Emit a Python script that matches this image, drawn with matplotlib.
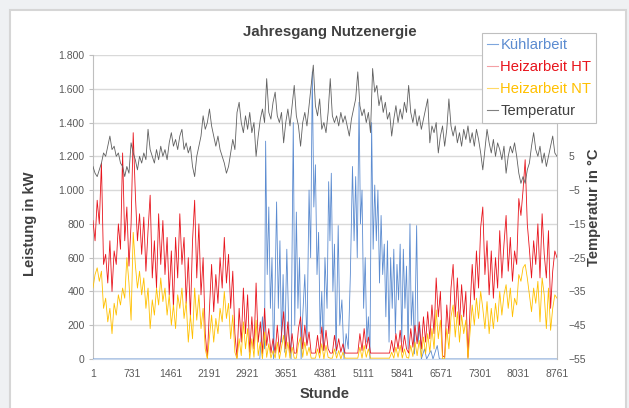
import numpy as np
import matplotlib
matplotlib.use("Agg")
import matplotlib.pyplot as plt
from matplotlib.patches import Rectangle
from matplotlib.lines import Line2D
from matplotlib.ticker import FuncFormatter

plt.rcParams['font.family'] = ['Liberation Sans', 'DejaVu Sans']

# sampling of the year, every 40 hours
hours = np.arange(0, 8761, 40)

# outside temperature in deg C (secondary axis)
temperatur = [2, 0, -1, 1, 3, 6, 5, 8, 11, 7,
              8, 5, 6, 3, 2, -1, 2, 0, 9, 6,
              4, 1, 5, 3, 6, 4, 13, 7, 5, 3,
              7, 4, 8, 5, 7, 4, 9, 12, 8, 10,
              7, 11, 13, 7, 9, 6, 8, 2, -1, 5,
              8, 11, 17, 13, 15, 19, 14, 11, 8, 11,
              7, 5, 3, 0, 2, 6, 10, 7, 18, 21,
              15, 12, 17, 13, 18, 12, 15, 5, 11, 16,
              19, 15, 28, 18, 16, 21, 24, 17, 15, 18,
              9, 15, 19, 14, 20, 26, 17, 14, 8, 15,
              18, 14, 20, 26, 32, 20, 17, 22, 13, 15,
              12, 18, 28, 17, 15, 17, 14, 18, 15, 17,
              14, 11, 16, 19, 22, 30, 20, 17, 19, 15,
              18, 12, 31, 24, 26, 20, 23, 18, 21, 16,
              18, 11, 16, 20, 15, 19, 16, 21, 18, 26,
              18, 15, 19, 14, 17, 13, 16, 19, 22, 9,
              14, 12, 15, 6, 11, 14, 8, 13, 22, 14,
              11, 14, 9, 12, 8, 13, 10, 14, 9, 12,
              8, 13, 10, 6, 1, 7, 13, 9, 6, 10,
              5, 9, 7, 4, 8, 0, 5, 8, 6, 9,
              5, 0, -3, -1, -3, 1, 3, 8, 12, 7,
              5, 8, 3, 6, 2, 5, 8, 11, 6, 5]

# Heizarbeit HT in kW
heiz_ht = [820, 700, 940, 800, 1160, 560, 620, 450, 700, 400,
           640, 560, 800, 650, 1220, 700, 900, 550, 800, 1340,
           980, 700, 860, 620, 840, 520, 760, 970, 480, 700,
           420, 860, 560, 820, 500, 720, 380, 640, 300, 720,
           480, 860, 560, 720, 330, 600, 250, 700, 940, 480,
           800, 380, 600, 150, 10, 300, 560, 280, 500, 330,
           600, 420, 720, 450, 620, 300, 520, 150, 10, 300,
           100, 420, 150, 380, 40, 250, 60, 450, 100, 220,
           30, 300, 80, 180, 35, 120, 35, 200, 40, 150,
           280, 60, 220, 35, 150, 35, 35, 180, 250, 60,
           200, 80, 160, 35, 35, 35, 140, 35, 190, 50,
           170, 60, 35, 35, 140, 50, 120, 40, 90, 35,
           35, 35, 35, 35, 35, 35, 150, 50, 180, 60,
           130, 35, 35, 35, 35, 35, 35, 35, 35, 35,
           35, 110, 40, 150, 60, 170, 40, 140, 60, 35,
           180, 70, 200, 90, 220, 60, 250, 100, 280, 120,
           320, 150, 480, 250, 400, 20, 10, 320, 150, 420,
           560, 250, 480, 200, 440, 250, 400, 10, 300, 560,
           350, 640, 420, 780, 900, 500, 700, 380, 640, 360,
           600, 420, 760, 480, 680, 850, 520, 720, 460, 640,
           560, 950, 850, 1000, 1180, 800, 650, 480, 700, 560,
           800, 480, 860, 620, 480, 760, 300, 520, 640, 600]

# Heizarbeit NT in kW
heiz_nt = [420, 500, 540, 460, 520, 300, 360, 220, 300, 150,
           330, 260, 380, 320, 420, 360, 600, 450, 230, 750,
           560, 420, 520, 380, 480, 300, 420, 180, 350, 260,
           420, 320, 480, 340, 420, 260, 380, 200, 320, 180,
           380, 300, 420, 240, 340, 100, 260, 120, 420, 230,
           380, 180, 300, 60, 0, 130, 260, 100, 240, 150,
           300, 220, 400, 240, 330, 120, 260, 40, 0, 120,
           20, 220, 60, 180, 0, 120, 10, 230, 20, 100,
           0, 160, 10, 90, 5, 50, 5, 100, 0, 70,
           140, 10, 100, 5, 70, 5, 5, 90, 130, 10,
           100, 20, 70, 5, 5, 5, 60, 5, 90, 0,
           80, 10, 5, 5, 60, 5, 50, 0, 40, 5,
           5, 5, 5, 5, 5, 5, 70, 5, 80, 10,
           60, 5, 5, 5, 5, 5, 5, 5, 5, 5,
           5, 40, 5, 70, 10, 80, 5, 60, 10, 5,
           80, 15, 100, 20, 110, 10, 130, 30, 150, 40,
           180, 60, 290, 120, 230, 0, 0, 180, 60, 250,
           320, 130, 280, 100, 260, 150, 230, 0, 160, 320,
           200, 360, 240, 400, 300, 180, 340, 150, 300, 180,
           330, 220, 400, 260, 380, 440, 300, 420, 250, 360,
           320, 500, 460, 540, 560, 480, 380, 280, 420, 330,
           460, 220, 480, 380, 180, 420, 170, 300, 380, 360]

# Kuehlarbeit in kW (own sampling, zero outside summer)
kuehl_hours = [1, 3150, 3200, 3240, 3260, 3290, 3320, 3350, 3380, 3410,
               3440, 3467, 3500, 3530, 3560, 3590, 3620, 3660, 3700, 3740,
               3782, 3810, 3840, 3870, 3900, 3930, 3960, 4000, 4040, 4080,
               4110, 4141, 4170, 4200, 4230, 4260, 4290, 4320, 4350, 4380,
               4420, 4450, 4474, 4500, 4530, 4560, 4590, 4630, 4660, 4700,
               4740, 4780, 4820, 4860, 4900, 4930, 4960, 4990, 5024, 5050,
               5080, 5110, 5140, 5170, 5200, 5230, 5261, 5290, 5320, 5350,
               5380, 5410, 5440, 5470, 5500, 5530, 5560, 5590, 5620, 5650,
               5680, 5710, 5740, 5770, 5800, 5830, 5860, 5890, 5920, 5950,
               5985, 6010, 6040, 6070, 6111, 6140, 6170, 6200, 6260, 6300,
               6380, 6420, 6500, 6540, 8760]
kuehl = [0, 0, 250, 60, 1290, 500, 900, 300, 600, 0,
         450, 930, 300, 700, 100, 500, 40, 650, 150, 0,
         1400, 200, 870, 300, 600, 0, 250, 500, 100, 1000,
         600, 1700, 900, 1150, 500, 750, 150, 400, 50, 600,
         300, 1050, 700, 1100, 400, 680, 30, 790, 200, 350,
         0, 150, 60, 500, 1140, 700, 1080, 600, 1520, 800,
         1000, 300, 600, 100, 250, 0, 1400, 650, 1030, 700,
         1000, 450, 850, 500, 680, 250, 700, 100, 600, 300,
         650, 150, 560, 350, 680, 100, 650, 300, 550, 60,
         800, 200, 400, 30, 790, 100, 200, 0, 60, 0,
         50, 0, 80, 0, 0]

x_ticks = list(range(1, 8762, 730))

c_blue = '#5b8bd0'
c_red = '#e8141c'
c_yel = '#ffc000'
c_gray = '#606060'
c_text = '#404040'
c_tick = '#595959'

W, H = 629, 408
fig = plt.figure(figsize=(W / 100, H / 100), dpi=100, facecolor='#eff1f3')
fig.patches.append(Rectangle((10 / W, -0.05), 616 / W, 1.05 - 10 / H,
                             transform=fig.transFigure, facecolor='white',
                             edgecolor='#d6d6d6', lw=1.5, zorder=-5))

ax = fig.add_axes([93 / W, 1 - 359 / H, 464 / W, 304 / H])
ax.set_facecolor('white')
ax.plot(kuehl_hours, kuehl, color=c_blue, lw=0.6, zorder=3)
ax.plot(hours, heiz_ht, color=c_red, lw=0.6, zorder=4)
ax.plot(hours, heiz_nt, color=c_yel, lw=0.6, zorder=5)

ax.set_xlim(1, 8761)
ax.set_ylim(0, 1800)
ax.set_xticks(x_ticks)
ax.set_yticks(range(0, 1801, 200))
ax.yaxis.set_major_formatter(FuncFormatter(lambda v, p: f'{v:,.0f}'.replace(',', '.')))
ax.yaxis.grid(True, color='#d9d9d9', lw=1)
ax.set_axisbelow(True)
ax.tick_params(axis='x', length=0, pad=7, labelsize=7.5, labelcolor=c_tick)
ax.tick_params(axis='y', length=3, width=0.8, color='#bfbfbf', pad=3,
               labelsize=7.5, labelcolor=c_tick)
for s in ['top', 'right']:
    ax.spines[s].set_visible(False)
ax.spines['left'].set_color('#bfbfbf')
ax.spines['bottom'].set_color('#c9d8ec')

ax2 = ax.twinx()
ax2.plot(hours, temperatur, color=c_gray, lw=0.6, zorder=6)
ax2.set_ylim(-55, 35)
ax2.set_yticks(range(-55, 6, 10))
ax2.tick_params(axis='y', length=0, pad=8, labelsize=7.5, labelcolor=c_tick)
for s in ['top', 'left', 'bottom']:
    ax2.spines[s].set_visible(False)
ax2.spines['right'].set_color('#bfbfbf')

fig.text(330 / W, 1 - 32 / H, 'Jahresgang Nutzenergie', ha='center', va='center',
         fontsize=10.8, fontweight='bold', color=c_text)
fig.text(30 / W, 1 - 224 / H, 'Leistung in kW', ha='center', va='center',
         rotation=90, fontsize=10.6, fontweight='bold', color=c_text)
fig.text(594 / W, 1 - 207 / H, 'Temperatur in °C', ha='center', va='center',
         rotation=90, fontsize=10.6, fontweight='bold', color=c_text)
fig.text(325 / W, 1 - 394 / H, 'Stunde', ha='center', va='center',
         fontsize=10.6, fontweight='bold', color=c_text)

handles = [Line2D([], [], color=c, lw=0.8) for c in ('#7ea6dd', '#f4a0a4', '#ffd966', '#808080')]
labels = ['Kühlarbeit', 'Heizarbeit HT', 'Heizarbeit NT', 'Temperatur']
leg = ax2.legend(handles, labels, loc='upper left', bbox_to_anchor=(482 / W, 1 - 33 / H),
                 bbox_transform=fig.transFigure, fontsize=10.6, frameon=True,
                 fancybox=False, framealpha=1, edgecolor='#bfbfbf',
                 handlelength=0.75, handletextpad=0.15, borderpad=0.34,
                 labelspacing=0.55, borderaxespad=0)
for t, c in zip(leg.get_texts(), (c_blue, c_red, c_yel, c_text)):
    t.set_color(c)
leg.get_frame().set_linewidth(0.8)
leg.set_zorder(20)

fig.savefig('out.png', dpi=100, facecolor=fig.get_facecolor())
